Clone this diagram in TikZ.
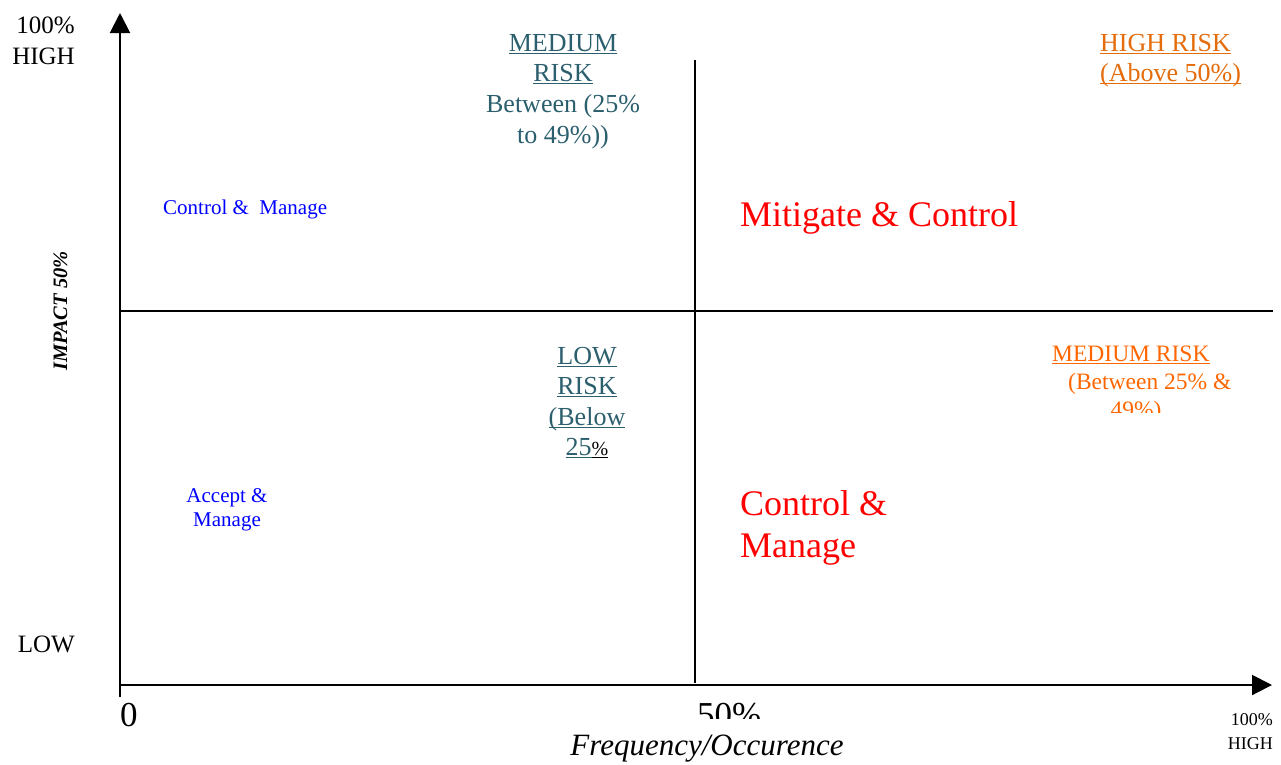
\documentclass[tikz,border=0pt]{standalone}
\usepackage{fontspec}
\setmainfont{Liberation Serif}
\usetikzlibrary{arrows.meta}

\definecolor{riskteal}{RGB}{44,95,110}
\definecolor{riskorange}{RGB}{228,108,10}
\definecolor{riskorangelight}{RGB}{255,102,0}

% font size in points, baselineskip equal to size
\newcommand\fs[1]{\fontsize{#1}{#1}\selectfont}
% underline drawn as a rule in the current colour
\newcommand\uln[1]{\setbox0=\hbox{#1}\rlap{\rule[-3pt]{\wd0}{1.5pt}}\box0}

\begin{document}
\begin{tikzpicture}[x=1pt,y=-1pt,
  axis/.style={line width=2pt,-{Triangle[length=20pt,width=20pt]}},
  divider/.style={line width=1.5pt},
  lbl/.style={inner sep=0pt,anchor=base},
  lblL/.style={inner sep=0pt,anchor=base west},
  lblR/.style={inner sep=0pt,anchor=base east},
  tealtxt/.style={text=riskteal,font=\fs{26}},
  redtxt/.style={text=red,font=\fs{36}},
  bluetxt/.style={text=blue,font=\fs{21}},
]
\useasboundingbox (0,0) rectangle (1281,764);

% axes and quadrant dividers
\coordinate (ybot) at (120,697);
\coordinate (ytop) at (120,13);
\coordinate (xleft) at (119,685);
\coordinate (xright) at (1272,685);
\coordinate (hmidL) at (120,311);
\coordinate (hmidR) at (1273,311);
\coordinate (vmidT) at (695,60);
\coordinate (vmidB) at (695,683);

\draw[axis] (ybot) -- (ytop);
\draw[axis] (xleft) -- (xright);
\draw[divider] (hmidL) -- (hmidR);
\draw[divider] (vmidT) -- (vmidB);

% axis labels
\node[lblR,font=\fs{25}] (yhi1) at (75,33) {100\%};
\node[lblR,font=\fs{25}] (yhi2) at (75,64) {HIGH};
\node[lblR,font=\fs{25}] (ylow) at (75,652) {LOW};
\node[lblL,font=\fs{35}] (xzero) at (120,726) {0};
\begin{scope}
  \clip (680,690) rectangle (780,718);
  \node[lblL,font=\fs{35}] (xhalf) at (697,726) {50\%};
\end{scope}
\node[lblR,font=\fs{18}] (xhi1) at (1273,725) {100\%};
\node[lblR,font=\fs{18}] (xhi2) at (1273,749) {HIGH};
\node[lbl,font=\fs{31}\itshape] (xtitle) at (707,755) {Frequency/Occurence};
\node[lbl,rotate=90,font=\fs{20.5}\bfseries\itshape] (ytitle) at (67,311) {IMPACT 50\%};

% upper-left quadrant
\node[lblL,bluetxt] (ctrlmgr) at (163,214) {Control \&\ \ Manage};
\node[lbl,tealtxt] (med1) at (563,51) {\uln{MEDIUM}};
\node[lbl,tealtxt] (med2) at (563,81) {\uln{RISK}};
\node[lbl,tealtxt] (med3) at (563,112) {Between (25\%};
\node[lbl,tealtxt] (med4) at (563,143) {to 49\%))};

% upper-right quadrant
\node[lblL,text=riskorange,font=\fs{26}] (high1) at (1100,51) {\uln{HIGH RISK}};
\node[lblL,text=riskorange,font=\fs{26}] (high2) at (1100,81) {\uln{(Above 50\%)}};
\node[lblL,redtxt] (mitig) at (740,226) {Mitigate \& Control};

% lower-left quadrant
\node[lbl,bluetxt] (acc1) at (227,502) {Accept \&};
\node[lbl,bluetxt] (acc2) at (227,526) {Manage};
\node[lbl,tealtxt] (low1) at (587,364) {\uln{LOW}};
\node[lbl,tealtxt] (low2) at (587,394) {\uln{RISK}};
\node[lbl,tealtxt] (low3) at (587,425) {\uln{(Below}};
\node[lbl,tealtxt] (low4) at (587,455) {\uln{25}{\color{black}\fs{20}\uln{\%}}};

% lower-right quadrant
\node[lblL,text=riskorangelight,font=\fs{23.5}] (medr1) at (1052,361) {\uln{MEDIUM RISK}};
\node[lblL,text=riskorangelight,font=\fs{23.5}] (medr2) at (1068,389) {(Between 25\% \&};
\begin{scope}
  \clip (1000,395) rectangle (1260,412);
  \node[lbl,text=riskorangelight,font=\fs{23.5}] (medr3) at (1136,417) {49\%)};
\end{scope}
\node[lblL,redtxt] (ctrl1) at (740,515) {Control \&};
\node[lblL,redtxt] (ctrl2) at (740,557) {Manage};
\end{tikzpicture}
\end{document}
